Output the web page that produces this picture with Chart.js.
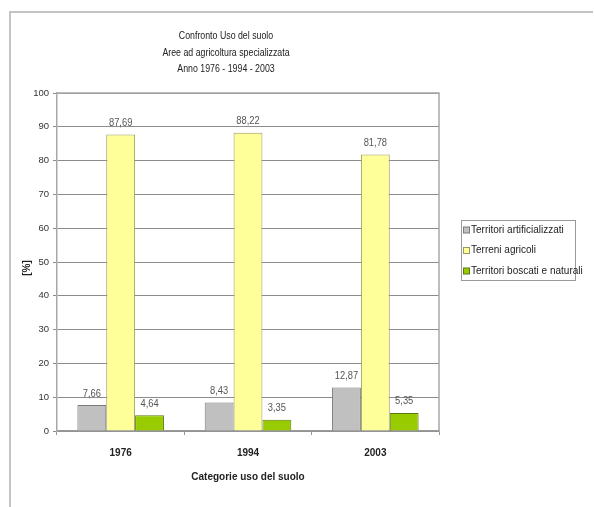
<!DOCTYPE html>
<html>
<head>
<meta charset="utf-8">
<title>Confronto Uso del suolo</title>
<script src="https://cdn.jsdelivr.net/npm/chart.js@4/dist/chart.umd.min.js"></script>
<style>
  html, body { margin: 0; padding: 0; background: #fff; }
  canvas { display: block; }
</style>
</head>
<body>
<canvas id="usoChart" width="594" height="507"></canvas>
<script>
// dati
const anni = ["1976", "1994", "2003"];
const artificializzati = [7.66, 8.43, 12.87];
const agricoli = [87.69, 88.22, 81.78];
const boscati = [4.64, 3.35, 5.35];
const tickY = [0, 10, 20, 30, 40, 50, 60, 70, 80, 90, 100];

const titolo = ["Confronto Uso del suolo", "Aree ad agricoltura specializzata", "Anno 1976 - 1994 - 2003"];
const FONT = '"Liberation Sans", Arial, sans-serif';

// testo compresso in orizzontale, come il carattere stretto dell'originale
function testoStretto(ctx, txt, x, y, k) {
  ctx.save();
  ctx.translate(x, y);
  ctx.scale(k, 1);
  ctx.fillText(txt, 0, 0);
  ctx.restore();
}

// cornice, titoli, legenda, etichette valori
const decorPlugin = {
  id: "decor",
  beforeDraw(chart) {
    const ctx = chart.ctx;
    ctx.save();
    ctx.fillStyle = "#fff";
    ctx.fillRect(0, 0, chart.width, chart.height);
    ctx.strokeStyle = "#c4c4c4";
    ctx.lineWidth = 2;
    ctx.beginPath();
    ctx.moveTo(10, 507);
    ctx.lineTo(10, 12);
    ctx.lineTo(593, 12);
    ctx.stroke();
    ctx.restore();
  },
  afterDatasetsDraw(chart) {
    const ctx = chart.ctx;
    ctx.save();
    ctx.font = "11px " + FONT;
    ctx.fillStyle = "#555";
    ctx.textAlign = "center";
    ctx.textBaseline = "bottom";
    chart.data.datasets.forEach((ds, i) => {
      chart.getDatasetMeta(i).data.forEach((bar, j) => {
        const txt = ds.data[j].toFixed(2).replace(".", ",");
        testoStretto(ctx, txt, bar.x, bar.y - 6, 0.85);
      });
    });
    ctx.restore();
  },
  afterDraw(chart) {
    const ctx = chart.ctx;
    const area = chart.chartArea;
    ctx.save();
    ctx.fillStyle = "#222";
    ctx.textAlign = "center";
    ctx.textBaseline = "middle";
    ctx.font = "11px " + FONT;
    titolo.forEach((t, i) => testoStretto(ctx, t, 226, 36 + i * 16.5, 0.8));

    // titoli assi
    ctx.font = "bold 10px " + FONT;
    ctx.fillText("Categorie uso del suolo", (area.left + area.right) / 2, 477);
    ctx.save();
    ctx.translate(27, 268);
    ctx.rotate(-Math.PI / 2);
    ctx.fillText("[%]", 0, 0);
    ctx.restore();

    // legenda
    const lx = 461, ly = 220, lw = 114, lh = 60;
    ctx.strokeStyle = "#9a9a9a";
    ctx.lineWidth = 1;
    ctx.strokeRect(lx + 0.5, ly + 0.5, lw, lh);
    ctx.font = "10px " + FONT;
    ctx.textAlign = "left";
    chart.data.datasets.forEach((ds, i) => {
      const y = 230 + i * 20.5;
      ctx.fillStyle = ds.backgroundColor;
      ctx.fillRect(lx + 2.5, y - 3, 6, 6);
      ctx.strokeStyle = ds.borderColor;
      ctx.strokeRect(lx + 2.5, y - 3, 6, 6);
      ctx.fillStyle = "#222";
      ctx.fillText(ds.label, lx + 10, y);
    });
    ctx.restore();
  }
};

new Chart(document.getElementById("usoChart"), {
  type: "bar",
  data: {
    labels: anni,
    datasets: [
      {
        label: "Territori artificializzati",
        data: artificializzati,
        backgroundColor: "#c0c0c0",
        borderColor: "#7a7a7a",
        borderWidth: 1
      },
      {
        label: "Terreni agricoli",
        data: agricoli,
        backgroundColor: "#ffff99",
        borderColor: "#9a9a60",
        borderWidth: 1
      },
      {
        label: "Territori boscati e naturali",
        data: boscati,
        backgroundColor: "#99cc00",
        borderColor: "#5c7a10",
        borderWidth: 1
      }
    ]
  },
  options: {
    responsive: false,
    animation: false,
    events: [],
    layout: { padding: { left: 10, right: 155, top: 93, bottom: 0 } },
    datasets: { bar: { categoryPercentage: 0.68, barPercentage: 1.0 } },
    plugins: {
      legend: { display: false },
      title: { display: false },
      tooltip: { enabled: false }
    },
    scales: {
      x: {
        offset: true,
        grid: {
          offset: true,
          drawOnChartArea: false,
          tickLength: 4,
          color: "#9a9a9a"
        },
        border: { color: "#9a9a9a", width: 1.5 },
        ticks: {
          padding: 12,
          color: "#222",
          font: { family: FONT, size: 10, weight: "bold" }
        },
        afterFit(scale) { scale.height = 76; }
      },
      y: {
        min: 0,
        max: 100,
        afterBuildTicks(scale) {
          scale.ticks = tickY.map(v => ({ value: v }));
        },
        grid: {
          color: "#8c8c8c",
          tickLength: 4,
          lineWidth: 1
        },
        border: { color: "#a8a8a8", width: 1.5 },
        ticks: {
          padding: 4,
          color: "#333",
          font: { family: FONT, size: 9.5 }
        },
        afterFit(scale) { scale.width = 47; }
      }
    }
  },
  plugins: [decorPlugin, {
    id: "riquadro",
    afterDatasetsDraw(chart) {
      const { ctx, chartArea: a } = chart;
      ctx.save();
      ctx.strokeStyle = "#a8a8a8";
      ctx.lineWidth = 1.5;
      ctx.beginPath();
      ctx.moveTo(a.left, a.top);
      ctx.lineTo(a.right, a.top);
      ctx.lineTo(a.right, a.bottom);
      ctx.stroke();
      ctx.restore();
    }
  }]
});
</script>
</body>
</html>
